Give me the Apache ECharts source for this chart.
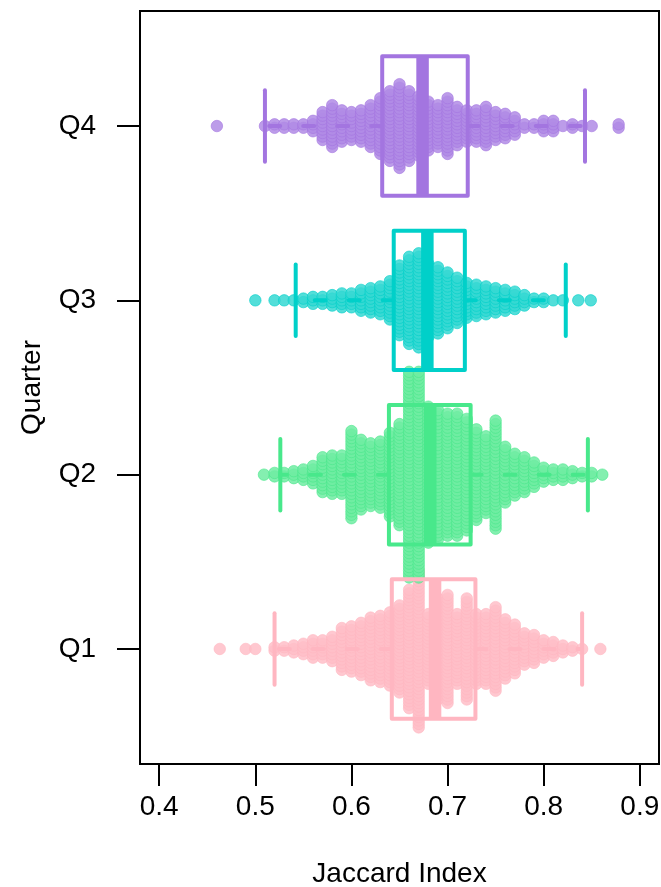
<!DOCTYPE html>
<html><head><meta charset="utf-8">
<script src="https://cdn.jsdelivr.net/npm/echarts@6/dist/echarts.min.js"></script>
<style>html,body{margin:0;padding:0;background:#fff}#c{width:661px;height:887px}</style>
</head><body><div id="c"></div>
<script>
// ---- data ----
const quarters = ['Q1', 'Q2', 'Q3', 'Q4'];
const xTicks = [0.4, 0.5, 0.6, 0.7, 0.8, 0.9];

// beeswarm: value of each column and number of points stacked in it
const q1Bins = [0.463,0.49,0.50,0.52,0.53,0.54,0.55,0.56,0.57,0.58,0.59,0.60,0.61,0.62,0.63,0.64,0.65,0.66,0.67,0.68,0.69,0.70,0.71,0.72,0.73,0.74,0.75,0.76,0.77,0.78,0.79,0.80,0.81,0.82,0.83,0.84,0.859];
const q1Counts = [1,1,1,2,2,3,4,6,6,8,13,14,16,19,20,22,26,35,46,21,30,32,21,30,21,21,25,18,15,10,9,6,5,3,2,1,1];

const q2Bins = [0.509,0.52,0.53,0.54,0.55,0.56,0.57,0.58,0.59,0.60,0.61,0.62,0.63,0.64,0.65,0.66,0.67,0.68,0.69,0.70,0.71,0.72,0.73,0.74,0.75,0.76,0.77,0.78,0.79,0.80,0.81,0.82,0.83,0.84,0.85,0.861];
const q2Counts = [1,2,2,3,4,6,11,12,12,26,21,19,20,25,30,60,60,40,38,36,36,33,27,23,32,17,13,11,8,5,4,4,3,2,2,1];

const q3Bins = [0.50,0.52,0.53,0.54,0.55,0.56,0.57,0.58,0.59,0.60,0.61,0.62,0.63,0.64,0.65,0.66,0.67,0.68,0.69,0.70,0.71,0.72,0.73,0.74,0.75,0.76,0.77,0.78,0.79,0.80,0.81,0.82,0.836,0.849];
const q3Counts = [1,1,1,1,2,3,3,4,5,5,7,8,9,12,21,26,28,22,20,17,14,11,10,9,8,7,6,4,2,2,1,1,1,1];

const q4Bins = [0.46,0.51,0.52,0.53,0.54,0.55,0.56,0.57,0.58,0.59,0.60,0.61,0.62,0.63,0.64,0.65,0.66,0.67,0.68,0.69,0.70,0.71,0.72,0.73,0.74,0.75,0.76,0.77,0.78,0.79,0.80,0.81,0.82,0.83,0.84,0.85,0.878];
const q4Counts = [1,1,2,2,2,2,4,9,13,10,9,10,13,17,21,25,21,18,15,13,17,12,10,10,12,9,8,6,2,2,4,4,1,2,1,1,2];

// box stats: [lower whisker, first quartile, median, third quartile, upper whisker]
const q1Stats = [0.520, 0.642, 0.687, 0.729, 0.840];
const q2Stats = [0.526, 0.639, 0.682, 0.724, 0.846];
const q3Stats = [0.542, 0.644, 0.679, 0.718, 0.823];
const q4Stats = [0.510, 0.632, 0.674, 0.721, 0.843];

// ---- styling ----
const colors = ['#FFB6C1', '#48E88B', '#00D0C9', '#A375E0'];
const fills  = ['#FFBEC8', '#6FECA2', '#35D8D2', '#B08BE5'];
const stackStep = 0.02;

const bins = [q1Bins, q2Bins, q3Bins, q4Bins];
const counts = [q1Counts, q2Counts, q3Counts, q4Counts];
const stats = [q1Stats, q2Stats, q3Stats, q4Stats];

function swarm(g) {
  const out = [];
  const b = bins[g], c = counts[g];
  for (let i = 0; i < b.length; i++) {
    const n = c[i];
    for (let k = 0; k < n; k++) {
      out.push([b[i], g + 1 + (k - (n - 1) / 2) * stackStep]);
    }
  }
  return out;
}

const series = [];
for (let g = 0; g < 4; g++) {
  series.push({
    type: 'scatter', large: false, progressive: 0, silent: true,
    symbol: 'circle', symbolSize: 11.5,
    data: swarm(g),
    itemStyle: { color: fills[g], borderColor: colors[g], borderWidth: 0.7, opacity: 0.85 },
    z: 2
  });
}
series.push({
  type: 'custom', silent: true, z: 5,
  data: stats.map((s, i) => [i + 1].concat(s)),
  renderItem: function (params, api) {
    const yv = api.value(0);
    const c = colors[params.dataIndex];
    const pW1 = api.coord([api.value(1), yv]);
    const pLo = api.coord([api.value(2), yv]);
    const pMd = api.coord([api.value(3), yv]);
    const pHi = api.coord([api.value(4), yv]);
    const pW2 = api.coord([api.value(5), yv]);
    const cy = pMd[1];
    const bh = api.size([0, 0.4])[1];
    const ch = api.size([0, 0.205])[1];
    const line = (x1, y1, x2, y2, w, dash, cap) => ({
      type: 'line', shape: { x1, y1, x2, y2 },
      style: { stroke: c, lineWidth: w, lineDash: dash || null, lineCap: cap || 'butt' }
    });
    return { type: 'group', children: [
      line(pLo[0], cy, pW1[0], cy, 4, [11, 23], 'round'),
      line(pHi[0], cy, pW2[0], cy, 4, [11, 23], 'round'),
      line(pW1[0], cy - ch, pW1[0], cy + ch, 4, null, 'round'),
      line(pW2[0], cy - ch, pW2[0], cy + ch, 4, null, 'round'),
      { type: 'rect', shape: { x: pLo[0], y: cy - bh, width: pHi[0] - pLo[0], height: 2 * bh },
        style: { fill: 'none', stroke: c, lineWidth: 4, lineJoin: 'round' } },
      line(pMd[0], cy - bh, pMd[0], cy + bh, 12.5)
    ]};
  }
});

const chart = echarts.init(document.getElementById('c'), null, { renderer: 'canvas' });
const font = 'Liberation Sans, Arial, Helvetica, sans-serif';
chart.setOption({
  animation: false,
  backgroundColor: '#fff',
  grid: { left: 140, right: 2, top: 11, bottom: 123, containLabel: false, outerBoundsMode: 'none',
    show: true, borderColor: '#000', borderWidth: 2, backgroundColor: 'transparent' },
  xAxis: {
    type: 'value', min: 0.38, max: 0.92,
    name: 'Jaccard Index', nameLocation: 'middle', nameGap: 96,
    nameTextStyle: { fontFamily: font, fontSize: 28, color: '#000' },
    axisLine: { show: false },
    splitLine: { show: false },
    axisTick: { show: true, length: 22, lineStyle: { color: '#000', width: 2 }, customValues: xTicks },
    axisLabel: { customValues: xTicks, margin: 29, fontFamily: font, fontSize: 28, color: '#000',
      formatter: v => v.toFixed(1) }
  },
  yAxis: {
    type: 'value', min: 0.34, max: 4.66,
    name: 'Quarter', nameLocation: 'middle', nameGap: 94, nameRotate: 90,
    nameTextStyle: { fontFamily: font, fontSize: 28, color: '#000' },
    axisLine: { show: false },
    splitLine: { show: false },
    axisTick: { show: true, length: 23, lineStyle: { color: '#000', width: 2 }, customValues: [1, 2, 3, 4] },
    axisLabel: { customValues: [1, 2, 3, 4], margin: 44, fontFamily: font, fontSize: 28, color: '#000',
      formatter: v => quarters[Math.round(v) - 1] }
  },
  series: series
});
</script>
</body></html>
